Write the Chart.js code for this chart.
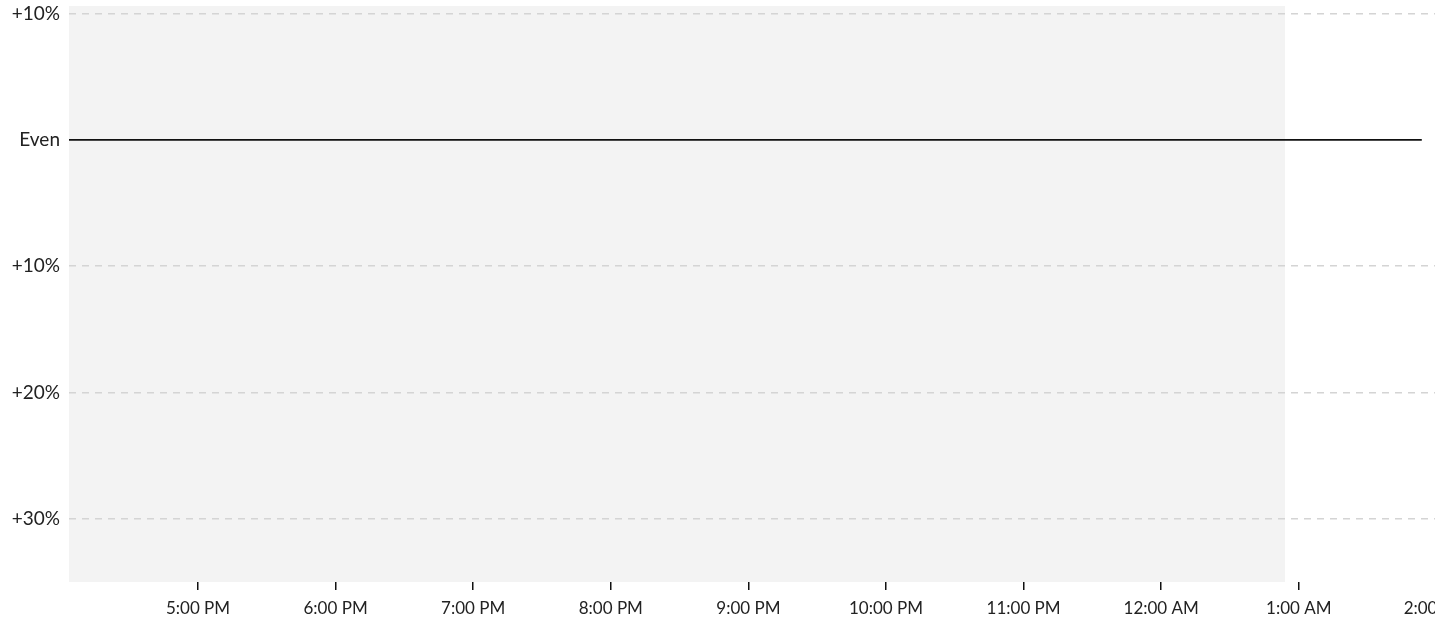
<!DOCTYPE html>
<html>
<head>
<meta charset="utf-8">
<script src="https://cdn.jsdelivr.net/npm/chart.js@4/dist/chart.umd.min.js"></script>
<style>
  html, body { margin: 0; padding: 0; background: #fff; overflow: hidden; }
  #wrap { position: relative; width: 1480px; height: 619px; }
</style>
</head>
<body>
<div id="wrap"><canvas id="chart"></canvas></div>
<script>
// x values are hours counted from midnight of the first day (24 = 12:00 AM)
const X_MIN = 16.0625;
const X_MAX = 26.317;
const Y_MIN = -35;
const Y_MAX = 10.6;

const yTicks = [-30, -20, -10, 0, 10];

// shaded period (results still coming in)
const shadeX = [16.0625, 24.9];
const shadeY = [10.6, 10.6];

// the "Even" baseline
const evenX = [16.0625, 25.894];
const evenY = [0, 0];

function hourLabel(h) {
  const hh = ((Math.round(h) % 24) + 24) % 24;
  const ampm = hh < 12 ? "AM" : "PM";
  const h12 = hh % 12 === 0 ? 12 : hh % 12;
  return `${h12}:00 ${ampm}`;
}

function pctLabel(v) {
  if (v === 0) return "Even";
  return `+${Math.abs(v)}%`;
}

const FONT = "Lato, 'Open Sans', sans-serif";

new Chart(document.getElementById("chart"), {
  type: "line",
  data: {
    datasets: [
      {
        label: "shade",
        data: shadeX.map((x, i) => ({ x, y: shadeY[i] })),
        borderWidth: 0,
        pointRadius: 0,
        backgroundColor: "#f3f3f3",
        fill: "start",
        order: 2,
      },
      {
        label: "even",
        data: evenX.map((x, i) => ({ x, y: evenY[i] })),
        borderColor: "#111",
        borderWidth: 1.7,
        pointRadius: 0,
        fill: false,
        order: 1,
      },
    ],
  },
  options: {
    responsive: true,
    maintainAspectRatio: false,
    animation: false,
    layout: { padding: { top: 6, right: 0, left: 0, bottom: 0 } },
    plugins: { legend: { display: false }, tooltip: { enabled: false } },
    scales: {
      x: {
        type: "linear",
        min: X_MIN,
        max: X_MAX,
        border: { display: false },
        grid: { drawOnChartArea: false, drawTicks: true, tickLength: 8, color: "#111", lineWidth: 1.5 },
        ticks: {
          stepSize: 1,
          includeBounds: false,
          autoSkip: false,
          maxRotation: 0,
          padding: 8,
          color: "#222",
          font: { family: FONT, size: 17 },
          callback: (v) => hourLabel(v),
        },
        afterFit: (s) => { s.height = 37; },
      },
      y: {
        min: Y_MIN,
        max: Y_MAX,
        border: { display: false, dash: [7, 6] },
        grid: {
          z: 1,
          drawTicks: false,
          color: (ctx) => (ctx.tick && ctx.tick.value === 0 ? "rgba(0,0,0,0)" : "#d4d4d4"),
          lineWidth: 1.5,
        },
        afterBuildTicks: (s) => { s.ticks = yTicks.map((v) => ({ value: v })); },
        ticks: {
          padding: 9,
          color: "#222",
          font: { family: FONT, size: 19 },
          callback: (v) => pctLabel(v),
        },
        afterFit: (s) => { s.width = 69; s.paddingTop = 0; s.paddingBottom = 0; },
      },
    },
  },
});
</script>
</body>
</html>
